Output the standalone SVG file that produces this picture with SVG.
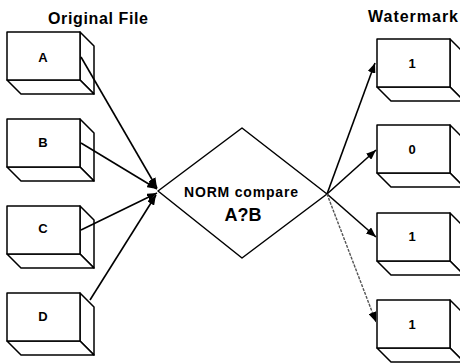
<svg xmlns="http://www.w3.org/2000/svg" width="460" height="364" viewBox="0 0 460 364">
  <style>
    .face { fill: #fff; stroke: #000; stroke-width: 1.5; stroke-linejoin: round; }
    .title { font-family: "Liberation Sans", Arial, sans-serif; font-size: 16px; font-weight: bold; fill: #000; }
    .lbl { font-family: "Liberation Sans", Arial, sans-serif; font-size: 13px; font-weight: bold; fill: #000; text-anchor: middle; }
    .wire { stroke: #000; stroke-width: 1.6; fill: none; }
    .faint { stroke: #555; stroke-width: 1.4; fill: none; stroke-dasharray: 3 1.2; }
  </style>
  <defs>
    <!-- box: front face 73x48 with a 14px extrusion down-right -->
    <g id="box">
      <path class="face" d="M73,0 L87,14 L87,62 L73,48 Z"/>
      <path class="face" d="M0,48 L73,48 L87,62 L14,62 Z"/>
      <rect class="face" x="0" y="0" width="73" height="48"/>
    </g>
    <marker id="arrow" viewBox="0 0 10 8" refX="10" refY="4" markerWidth="10" markerHeight="8" markerUnits="userSpaceOnUse" orient="auto">
      <path d="M0,0 L10,4 L0,8 Z" fill="#000"/>
    </marker>
  </defs>

  <text class="title" x="48" y="24" textLength="100" lengthAdjust="spacing">Original File</text>
  <text class="title" x="368" y="22" textLength="90" lengthAdjust="spacing">Watermark</text>

  <!-- source records -->
  <g id="file-a"><use href="#box" x="7" y="32"/><text class="lbl" x="43" y="62">A</text></g>
  <g id="file-b"><use href="#box" x="7" y="119"/><text class="lbl" x="43" y="147">B</text></g>
  <g id="file-c"><use href="#box" x="7" y="206"/><text class="lbl" x="43" y="233">C</text></g>
  <g id="file-d"><use href="#box" x="7" y="293"/><text class="lbl" x="43" y="321">D</text></g>

  <!-- comparison step -->
  <g id="compare">
    <polygon class="face" points="242,128 327,194 242,258 158,191"/>
    <text class="lbl" x="241" y="197" style="font-size:14px" textLength="114" lengthAdjust="spacing">NORM compare</text>
    <text class="lbl" x="243" y="221" style="font-size:18px">A?B</text>
  </g>

  <!-- watermark bits -->
  <g id="bit-1"><use href="#box" x="377" y="39"/><text class="lbl" x="412" y="68">1</text></g>
  <g id="bit-2"><use href="#box" x="377" y="125"/><text class="lbl" x="412" y="154">0</text></g>
  <g id="bit-3"><use href="#box" x="377" y="213"/><text class="lbl" x="412" y="241">1</text></g>
  <g id="bit-4"><use href="#box" x="377" y="300"/><text class="lbl" x="412" y="329">1</text></g>

  <g id="connectors">
    <line class="wire" x1="81" y1="57" x2="157" y2="188" marker-end="url(#arrow)"/>
    <line class="wire" x1="81" y1="143" x2="157" y2="189" marker-end="url(#arrow)"/>
    <line class="wire" x1="81" y1="230" x2="157" y2="193" marker-end="url(#arrow)"/>
    <line class="wire" x1="90" y1="300" x2="156" y2="195" marker-end="url(#arrow)"/>

    <line class="wire" x1="327" y1="194" x2="375" y2="63" marker-end="url(#arrow)"/>
    <line class="wire" x1="327" y1="194" x2="376" y2="150" marker-end="url(#arrow)"/>
    <line class="wire" x1="327" y1="194" x2="376" y2="237" marker-end="url(#arrow)"/>
    <line class="faint" x1="327" y1="194" x2="376" y2="322" marker-end="url(#arrow)"/>
  </g>
</svg>
